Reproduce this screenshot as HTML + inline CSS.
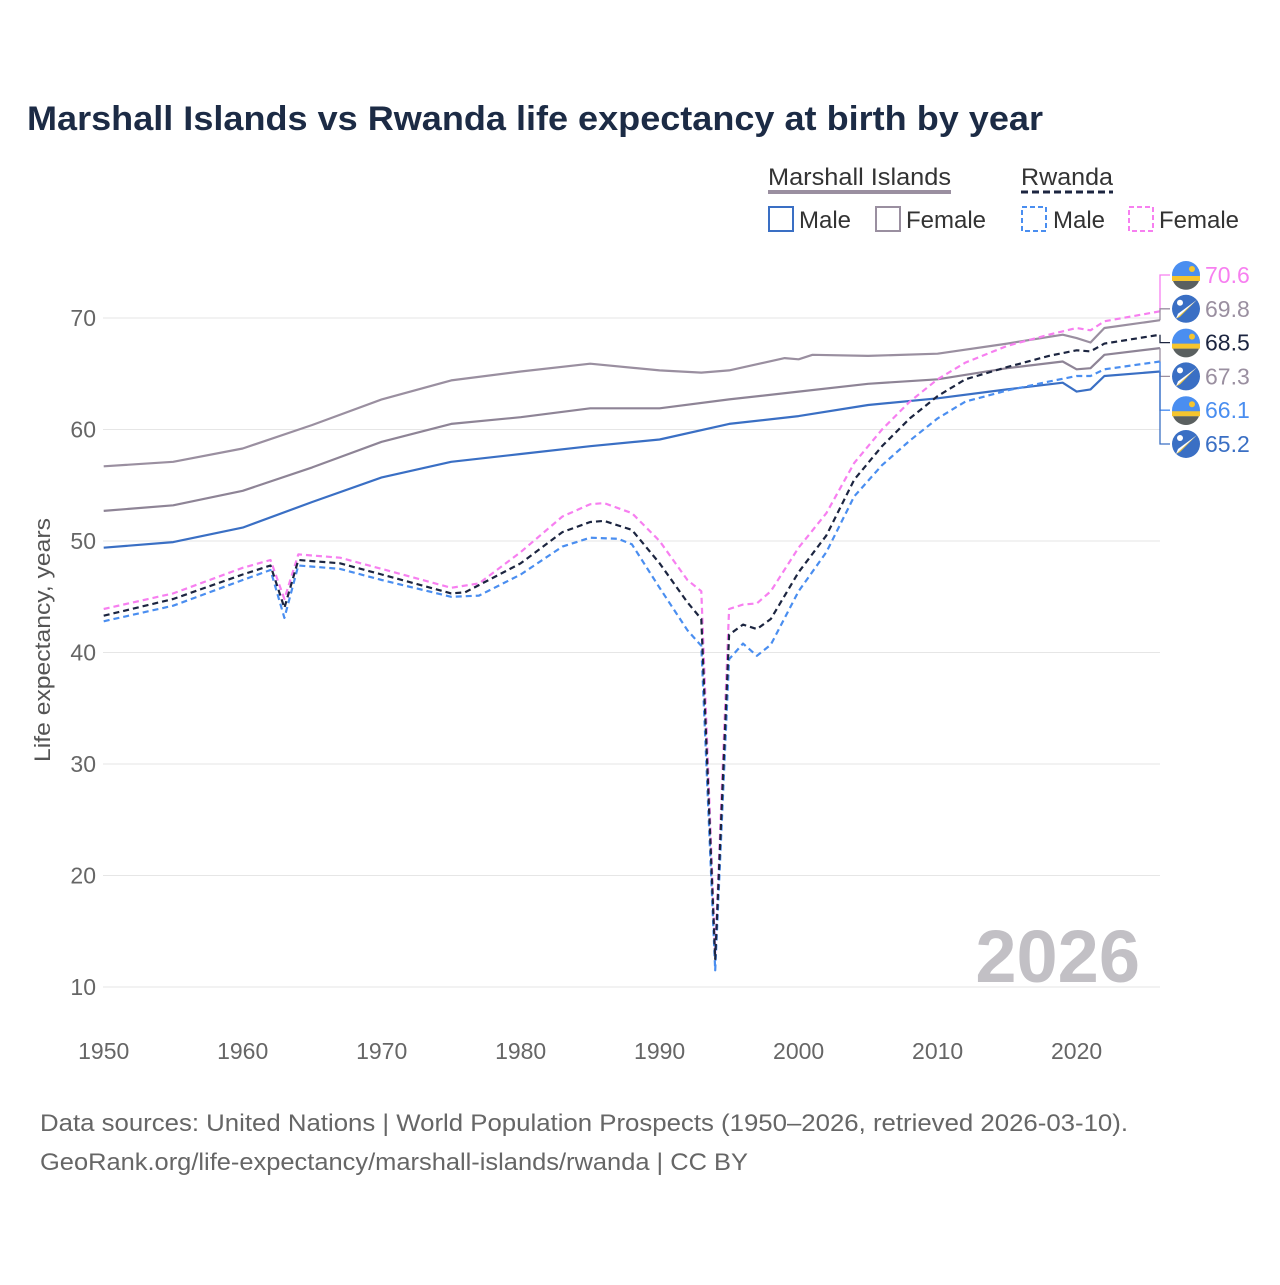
<!DOCTYPE html>
<html><head><meta charset="utf-8"><style>
body{margin:0;background:#fff;font-family:"Liberation Sans",sans-serif}
svg text{font-family:"Liberation Sans",sans-serif}
</style></head><body>
<svg id="c" width="1280" height="1280" viewBox="0 0 1280 1280">
<text x="27" y="130" font-size="34" font-weight="bold" fill="#1c2b45" textLength="1016" lengthAdjust="spacingAndGlyphs">Marshall Islands vs Rwanda life expectancy at birth by year</text>
<g>
<text x="768" y="185" font-size="24" fill="#333" textLength="183" lengthAdjust="spacingAndGlyphs">Marshall Islands</text>
<line x1="768" y1="192" x2="951" y2="192" stroke="#9a8fa0" stroke-width="4"/>
<text x="1021" y="185" font-size="24" fill="#333" textLength="92" lengthAdjust="spacingAndGlyphs">Rwanda</text>
<line x1="1021" y1="192" x2="1113" y2="192" stroke="#1c2540" stroke-width="3" stroke-dasharray="7,4"/>
<rect x="769" y="207" width="24" height="24" fill="none" stroke="#3a6fc4" stroke-width="2"/>
<text x="799" y="228" font-size="24" fill="#333">Male</text>
<rect x="876" y="207" width="24" height="24" fill="none" stroke="#9a8fa0" stroke-width="2"/>
<text x="906" y="228" font-size="24" fill="#333">Female</text>
<rect x="1022" y="207" width="24" height="24" fill="none" stroke="#4a8ef0" stroke-width="2" stroke-dasharray="5,3"/>
<text x="1053" y="228" font-size="24" fill="#333">Male</text>
<rect x="1129" y="207" width="24" height="24" fill="none" stroke="#f77ff0" stroke-width="2" stroke-dasharray="5,3"/>
<text x="1159" y="228" font-size="24" fill="#333">Female</text>
</g>
<g id="grid"></g>
<g id="series"></g>
<g id="labels"></g>
<text x="1140" y="982" text-anchor="end" font-size="74" font-weight="bold" fill="#c2c0c5">2026</text>
<text transform="translate(50,640) rotate(-90)" text-anchor="middle" font-size="22" fill="#555" textLength="244" lengthAdjust="spacingAndGlyphs">Life expectancy, years</text>
<text x="40" y="1131" font-size="24" fill="#666" textLength="1088" lengthAdjust="spacingAndGlyphs">Data sources: United Nations | World Population Prospects (1950–2026, retrieved 2026-03-10).</text>
<text x="40" y="1170" font-size="24" fill="#666" textLength="708" lengthAdjust="spacingAndGlyphs">GeoRank.org/life-expectancy/marshall-islands/rwanda | CC BY</text>
</svg>
<script>
const yTicks=[10,20,30,40,50,60,70];
const xTicks=[1950,1960,1970,1980,1990,2000,2010,2020];
const mhMaleYears=[1950,1955,1960,1965,1970,1975,1980,1985,1990,1995,2000,2005,2010,2015,2019,2020,2021,2022,2026];
const mhMaleVals=[49.4,49.9,51.2,53.5,55.7,57.1,57.8,58.5,59.1,60.5,61.2,62.2,62.8,63.6,64.2,63.4,63.6,64.8,65.2];
const mhFemYears=[1950,1955,1960,1965,1970,1975,1980,1985,1990,1993,1995,1999,2000,2001,2005,2010,2015,2019,2020,2021,2022,2026];
const mhFemVals=[56.7,57.1,58.3,60.4,62.7,64.4,65.2,65.9,65.3,65.1,65.3,66.4,66.3,66.7,66.6,66.8,67.7,68.5,68.2,67.8,69.1,69.8];
const mhAllYears=[1950,1955,1960,1965,1970,1975,1980,1985,1990,1995,2000,2005,2010,2015,2019,2020,2021,2022,2026];
const mhAllVals=[52.7,53.2,54.5,56.6,58.9,60.5,61.1,61.9,61.9,62.7,63.4,64.1,64.5,65.5,66.1,65.4,65.5,66.7,67.3];
const rwFemYears=[1950,1955,1960,1962,1963,1964,1967,1970,1975,1977,1980,1983,1985,1986,1988,1990,1992,1993,1994,1995,1996,1997,1998,2000,2002,2004,2006,2008,2010,2012,2015,2018,2020,2021,2022,2026];
const rwFemVals=[43.9,45.3,47.6,48.3,44.8,48.8,48.5,47.5,45.8,46.2,49.0,52.2,53.3,53.4,52.5,50.0,46.5,45.5,13.0,43.9,44.3,44.4,45.5,49.4,52.5,57.0,60.0,62.5,64.5,66.0,67.5,68.5,69.1,68.9,69.7,70.6];
const rwAllYears=[1950,1955,1960,1962,1963,1964,1967,1970,1975,1976,1980,1983,1985,1986,1988,1990,1992,1993,1994,1995,1996,1997,1998,2000,2002,2004,2006,2008,2010,2012,2015,2018,2020,2021,2022,2026];
const rwAllVals=[43.3,44.8,47.0,47.8,44.0,48.3,48.0,47.0,45.3,45.4,48.0,50.8,51.7,51.8,51.0,48.0,44.5,43.0,12.5,41.6,42.5,42.1,43.0,47.2,50.5,55.5,58.5,61.0,63.0,64.5,65.6,66.6,67.1,67.0,67.7,68.5];
const rwMaleYears=[1950,1955,1960,1962,1963,1964,1967,1970,1975,1977,1980,1983,1985,1987,1988,1990,1992,1993,1994,1995,1996,1997,1998,2000,2002,2004,2006,2008,2010,2012,2015,2018,2020,2021,2022,2026];
const rwMaleVals=[42.8,44.2,46.5,47.4,43.1,47.8,47.5,46.5,45.0,45.1,47.0,49.5,50.3,50.2,49.7,45.8,42.0,40.6,11.5,39.4,40.8,39.7,40.7,45.5,49.0,54.0,56.8,59.0,61.0,62.5,63.5,64.3,64.8,64.8,65.4,66.1];

const NS='http://www.w3.org/2000/svg';
const X=y=>103.7+(y-1950)*(1160-103.7)/76;
const Y=v=>318+(70-v)*11.15;
function mk(t,a,p){const e=document.createElementNS(NS,t);for(const k in a)e.setAttribute(k,a[k]);p.appendChild(e);return e;}
const grid=document.getElementById('grid');
yTicks.forEach(t=>{
  const l=mk('line',{x1:103,x2:1160,y1:Y(t),y2:Y(t),stroke:'#e6e6e6','stroke-width':1},grid);
  
  
  const tx=mk('text',{x:96,y:Y(t)+8,'text-anchor':'end','font-size':23,fill:'#666'},grid);
  tx.textContent=t;
  
  
});
xTicks.forEach(t=>{
  const tx=mk('text',{x:X(t),y:1059,'text-anchor':'middle','font-size':23,fill:'#666'},grid);
  tx.textContent=t;
  
  
});
const series=[
 {n:'marshall-female',ys:mhFemYears,vs:mhFemVals,c:'#9a8fa0',d:null},
 {n:'marshall-total',ys:mhAllYears,vs:mhAllVals,c:'#8e8496',d:null},
 {n:'marshall-male',ys:mhMaleYears,vs:mhMaleVals,c:'#3a6fc4',d:null},
 {n:'rwanda-female',ys:rwFemYears,vs:rwFemVals,c:'#f77ff0',d:'6,4'},
 {n:'rwanda-male',ys:rwMaleYears,vs:rwMaleVals,c:'#4a8ef0',d:'6,4'},
 {n:'rwanda-total',ys:rwAllYears,vs:rwAllVals,c:'#1c2540',d:'6,4'}
];
const sg=document.getElementById('series');
series.forEach(s=>{
  const pts=s.ys.map((y,i)=>X(y).toFixed(1)+','+Y(s.vs[i]).toFixed(1)).join(' ');
  const a={points:pts,fill:'none',stroke:s.c,'stroke-width':2.2,'stroke-linejoin':'round'};
  if(s.d)a['stroke-dasharray']=s.d;
  const p=mk('polyline',a,sg);
  
  
});
const order=[
 {s:3,c:'#f77ff0',flag:'rw'},{s:0,c:'#9a8fa0',flag:'mh'},{s:5,c:'#1c2540',flag:'rw'},
 {s:1,c:'#9a8fa0',flag:'mh'},{s:4,c:'#4a8ef0',flag:'rw'},{s:2,c:'#3a6fc4',flag:'mh'}];
const lg=document.getElementById('labels');
order.forEach((o,i)=>{
  const s=series[o.s];
  const v=s.vs[s.vs.length-1];
  const ly=275+i*33.8;
  const g=mk('g',{},lg);
  
  
  mk('polyline',{points:`1160,${Y(v)} 1160,${ly} 1170,${ly}`,fill:'none',stroke:o.c,'stroke-width':1.3},g);
  const cx=1186,cy=ly,r=14;
  if(o.flag==='rw'){
    mk('circle',{cx,cy,r,fill:'#4a8ef0'},g);
    mk('path',{d:`M${cx-r+1} ${cy+6}h${2*r-2}a${r} ${r} 0 0 1 ${-2*r+2} 0z`,fill:'#5a6060'},g);
    mk('path',{d:`M${cx-r} ${cy+1}h${2*r}v5h${-2*r}z`,fill:'#f5c52e'},g);
    mk('circle',{cx:cx+6,cy:cy-6,r:3,fill:'#f5c52e'},g);
  }else{
    mk('circle',{cx,cy,r,fill:'#3a6fc4'},g);
    mk('path',{d:`M${cx-10} ${cy+10}L${cx+11} ${cy-9}L${cx-6} ${cy+8}z`,fill:'#f5c52e'},g);
    mk('path',{d:`M${cx-10} ${cy+10}L${cx+11} ${cy-9}L${cx-8} ${cy+5}z`,fill:'#fff'},g);
    mk('circle',{cx:cx-6,cy:cy-6,r:3,fill:'#fff'},g);
  }
  const t=mk('text',{x:1205,y:ly+8,'font-size':23,fill:o.c},g);
  t.textContent=v.toFixed(1);
});
</script>
</body></html>
